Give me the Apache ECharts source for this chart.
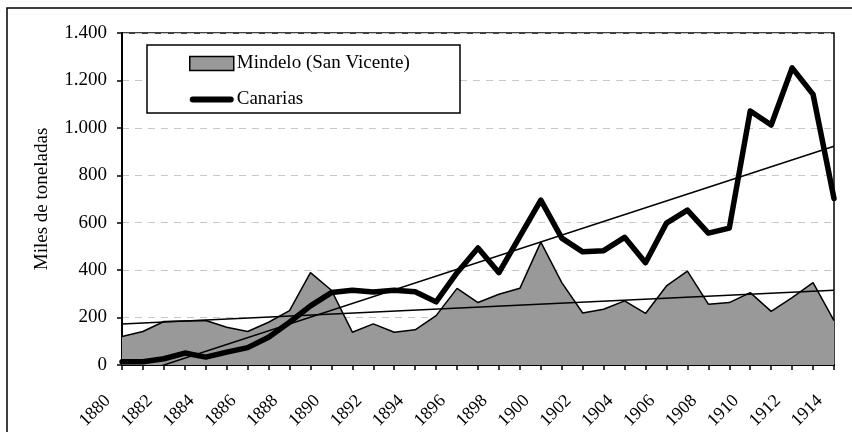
<!DOCTYPE html>
<html>
<head>
<meta charset="utf-8">
<script src="https://cdn.jsdelivr.net/npm/echarts@6/dist/echarts.min.js"></script>
<style>
  html, body { margin: 0; padding: 0; background: #fff; }
  #chart { width: 852px; height: 432px; }
</style>
</head>
<body>
<div id="chart"></div>
<script>
// años
const years = [1880, 1881, 1882, 1883, 1884, 1885, 1886, 1887, 1888, 1889,
    1890, 1891, 1892, 1893, 1894, 1895, 1896, 1897, 1898, 1899,
    1900, 1901, 1902, 1903, 1904, 1905, 1906, 1907, 1908, 1909,
    1910, 1911, 1912, 1913, 1914];

// miles de toneladas
const mindelo = [120, 141, 183, 185, 187, 159, 141, 180, 229, 389,
    315, 138, 173, 138, 148, 208, 323, 263, 298, 323,
    518, 347, 219, 235, 270, 217, 333, 396, 256, 263,
    305, 226, 284, 347, 187];
const canarias = [13, 13, 26, 50, 33, 54, 73, 117, 180, 249,
    305, 315, 308, 315, 309, 266, 389, 493, 389, 542,
    695, 535, 477, 482, 538, 431, 598, 653, 556, 577,
    1071, 1012, 1253, 1141, 702];

// tendencias lineales (extremos 1880 / 1914)
const trendYears = [1880, 1914];
const mindeloTrend = [173, 315];
const canariasTrend = [-58, 922];

const FONT = '"Liberation Serif", "Times New Roman", serif';

const pairs = (xs, ys) => xs.map((x, i) => [x, ys[i]]);
const fmtMiles = v => String(v).replace(/\B(?=(\d{3})+(?!\d))/g, '.');

const chart = echarts.init(document.getElementById('chart'), null, { renderer: 'canvas' });

chart.setOption({
    animation: false,
    backgroundColor: '#fff',
    grid: { left: 122, right: 18, top: 33, bottom: 64, show: true, borderColor: '#000', borderWidth: 1.5 },
    graphic: [
        { type: 'rect', z: 1, shape: { x: 7, y: 8, width: 900, height: 500 },
          style: { fill: 'none', stroke: '#000', lineWidth: 1.5 } },
        { type: 'rect', z: 5, shape: { x: 147, y: 45, width: 313, height: 68 },
          style: { fill: '#fff', stroke: '#000', lineWidth: 1.5 } }
    ],
    legend: {
        z: 10,
        orient: 'vertical',
        left: 189,
        top: 54,
        padding: 0,
        itemWidth: 44,
        itemHeight: 14,
        itemGap: 17,
        textStyle: { fontFamily: FONT, fontSize: 19, color: '#000', padding: [0, 0, 0, -2] },
        data: [
            { name: 'Mindelo (San Vicente)', icon: 'rect',
              itemStyle: { color: '#999', borderColor: '#000', borderWidth: 1.5 } },
            { name: 'Canarias', icon: 'path://M3,0 L41,0 A3,3 0 0 1 41,6 L3,6 A3,3 0 0 1 3,0 Z',
              itemStyle: { color: '#000', borderWidth: 0 } }
        ]
    },
    xAxis: {
        type: 'value',
        min: 1880,
        max: 1914,
        interval: 1,
        axisLine: { lineStyle: { color: '#000', width: 2 } },
        axisTick: { show: true, length: 5, lineStyle: { color: '#000', width: 1.5 } },
        splitLine: { show: false },
        axisLabel: {
            rotate: 45,
            margin: 19,
            padding: [0, 20, 0, 0],
            fontFamily: FONT,
            fontSize: 18,
            color: '#000',
            showMinLabel: true,
            showMaxLabel: true,
            formatter: v => (v % 2 === 0 ? String(v) : '')
        }
    },
    yAxis: {
        type: 'value',
        min: 0,
        max: 1400,
        interval: 200,
        name: 'Miles de toneladas',
        nameLocation: 'middle',
        nameRotate: 90,
        nameGap: 70,
        nameTextStyle: { fontFamily: FONT, fontSize: 19, color: '#000' },
        axisLine: { show: true, lineStyle: { color: '#000', width: 2 } },
        axisTick: { show: true, length: 5, lineStyle: { color: '#000', width: 1.5 } },
        splitLine: { show: true, lineStyle: { color: '#c8c8c8', width: 1, type: [7, 6] } },
        axisLabel: { margin: 15, fontFamily: FONT, fontSize: 19, color: '#000', formatter: fmtMiles }
    },
    series: [
        {
            name: 'Mindelo (San Vicente)',
            type: 'line',
            z: 2,
            data: pairs(years, mindelo),
            symbol: 'none',
            itemStyle: { color: '#999' },
            lineStyle: { color: '#000', width: 1.5 },
            areaStyle: { color: '#999', opacity: 1 }
        },
        {
            name: 'Canarias',
            type: 'line',
            z: 3,
            data: pairs(years, canarias),
            symbol: 'none',
            itemStyle: { color: '#000' },
            lineStyle: { color: '#000', width: 5.5, join: 'round', cap: 'round' }
        },
        {
            name: 'Tendencia Mindelo',
            type: 'line',
            z: 4,
            silent: true,
            data: pairs(trendYears, mindeloTrend),
            symbol: 'none',
            lineStyle: { color: '#000', width: 1.5 }
        },
        {
            name: 'Tendencia Canarias',
            type: 'line',
            z: 4,
            silent: true,
            clip: true,
            data: pairs(trendYears, canariasTrend),
            symbol: 'none',
            lineStyle: { color: '#000', width: 1.5 }
        }
    ]
});
</script>
</body>
</html>
